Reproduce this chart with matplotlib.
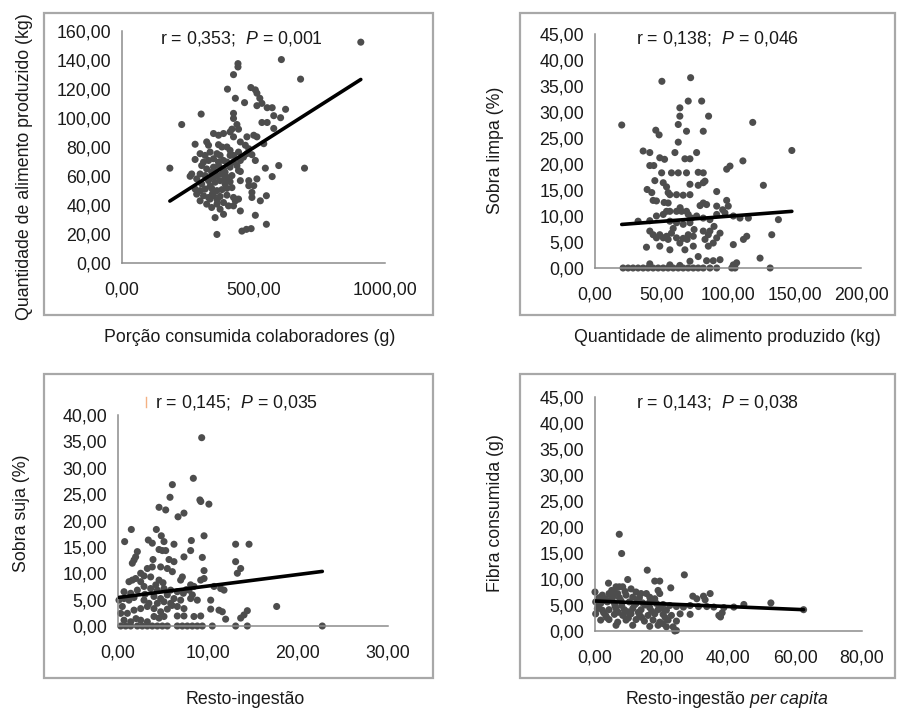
import matplotlib
matplotlib.use("Agg")
import matplotlib.pyplot as plt
import numpy as np
from matplotlib.patches import Rectangle
from matplotlib.lines import Line2D
from matplotlib.ticker import FixedLocator, FuncFormatter

plt.rcParams['font.family'] = ['Liberation Sans', 'DejaVu Sans']
plt.rcParams['mathtext.fontset'] = 'custom'
plt.rcParams['mathtext.rm'] = 'Liberation Sans'
plt.rcParams['mathtext.it'] = 'Liberation Sans:italic'

# ---------------- Panel 1: Porção consumida vs Quantidade produzida ----------------
p1_x = [908, 606, 441, 441, 424, 679, 401, 490, 507, 513, 431, 466, 524, 532, 513, 552, 571, 622,
        301, 424, 424, 227, 577, 603, 532, 552, 437, 443, 418, 577, 348, 367, 386, 411, 424, 475,
        501, 513, 278, 322, 329, 367, 380, 399, 450, 469, 482, 539, 297, 316, 335, 361, 373, 411,
        424, 443, 475, 494, 278, 310, 329, 348, 386, 399, 424, 450, 507, 182, 303, 322, 348, 367,
        386, 411, 437, 443, 265, 259, 297, 316, 341, 361, 380, 399, 418, 450, 545, 596, 694, 571,
        329, 354, 373, 392, 411, 450, 482, 513, 501, 482, 278, 297, 316, 341, 361, 380, 399, 284,
        310, 329, 348, 373, 399, 424, 443, 431, 494, 494, 526, 549, 297, 322, 341, 361, 386, 405,
        424, 450, 507, 549, 354, 386, 456, 473, 491, 361, 335, 373, 284, 303, 348, 367, 411, 462,
        335, 354, 392, 418, 362, 344, 390]
p1_y = [152.3, 140.3, 137.5, 135.2, 129.9, 126.8, 119.9, 121.0, 119.4, 117.1, 113.6, 110.6, 113.6,
        110.1, 108.5, 107.1, 107.1, 106.0, 102.7, 103.2, 99.7, 95.5, 101.6, 100.2, 96.9, 96.9, 95.5,
        92.3, 92.3, 92.8, 89.3, 88.1, 89.3, 90.4, 87.0, 87.0, 88.1, 87.0, 81.9, 83.5, 81.2, 81.6,
        80.0, 80.0, 83.5, 81.2, 78.8, 82.3, 75.4, 74.2, 76.5, 75.4, 74.2, 77.7, 74.2, 76.5, 75.4,
        74.7, 71.4, 69.6, 70.7, 71.9, 70.7, 69.6, 69.6, 70.7, 70.7, 65.4, 67.2, 64.9, 66.1, 67.2,
        64.9, 66.1, 67.2, 63.8, 61.4, 59.8, 61.4, 60.3, 62.6, 60.3, 61.4, 59.1, 60.3, 63.1, 65.4,
        67.2, 65.4, 59.6, 56.8, 55.7, 56.8, 54.5, 56.1, 56.8, 56.8, 58.0, 53.3, 53.3, 51.0, 49.9,
        51.0, 51.5, 49.9, 50.6, 51.5, 47.5, 46.4, 45.2, 46.4, 45.9, 46.8, 45.2, 44.1, 42.9, 48.7,
        45.2, 42.9, 46.4, 42.9, 40.6, 38.3, 40.6, 41.7, 39.4, 39.4, 35.9, 32.9, 26.7, 31.3, 33.6,
        22.0, 23.2, 23.7, 19.7, 44.1, 37.1, 58.0, 54.5, 59.1, 69.6, 74.2, 73.0,
        53.0, 63.0, 62.5, 52.0, 43.5, 47.8, 57.5]
p1_trend = (21.7, 0.1155)  # intercept, slope
p1_xticks = [0, 500, 1000]
p1_yticks = [0, 20, 40, 60, 80, 100, 120, 140, 160]
p1_xlabel = "Porção consumida colaboradores (g)"
p1_ylabel = "Quantidade de alimento produzido (kg)"
p1_stat = ("0,353", "0,001")

# ---------------- Panel 2: Quantidade produzida vs Sobra limpa ----------------
p2_x = [20.1, 50.3, 71.9, 70.1, 80.2, 63.8, 63.8, 85.4, 62.6, 68.8, 81.4, 118.6, 45.7, 48.2, 62.6,
        148.0, 36.2, 41.2, 60.1, 76.4, 48.7, 52.3, 41.2, 44.2, 67.6, 71.4, 111.2, 101.5, 99.0,
        50.1, 57.5, 62.6, 68.8, 77.6, 81.4, 51.3, 53.8, 71.4, 77.6, 81.4, 82.7, 126.6, 39.2, 42.7,
        43.7, 46.2, 55.0, 56.3, 61.3, 66.3, 71.4, 91.5, 81.4, 83.9, 91.5, 99.0, 100.2, 55.0, 53.8,
        56.3, 61.3, 65.1, 68.8, 46.2, 51.3, 41.2, 32.4,
        70.1, 72.6, 76.4, 81.4, 86.4, 91.5, 97.7, 104.0, 109.0, 115.3, 137.9, 56.3, 61.3, 66.3,
        71.4, 41.2, 43.7, 48.7, 53.8, 57.5, 46.2, 51.3, 55.0, 61.3, 66.3, 70.1, 73.9, 63.8, 69.3,
        38.7, 48.7, 56.3, 67.6, 73.9, 82.7, 85.2, 88.9, 91.5, 94.0, 104.0, 111.6, 114.1, 132.9,
        85.2, 86.4, 81.4, 77.6, 71.4, 83.9, 88.9, 94.0, 104.0, 106.5, 124.1, 41.2, 56.3, 63.8,
        21.1, 24.9, 28.6, 32.4, 36.2, 39.9, 43.7, 47.5, 51.3, 55.0, 58.8, 62.6, 66.3, 70.1, 73.9,
        77.6, 81.4, 86.4, 91.5, 102.8, 105.3, 131.7,
        58.8, 64.0, 74.5, 79.0, 89.5, 96.0, 45.0, 52.0]
p2_y = [27.5, 35.9, 36.6, 32.1, 32.1, 30.8, 29.2, 29.2, 27.6, 26.3, 26.3, 28.0, 26.5, 25.6, 24.2,
        22.6, 22.5, 22.2, 22.2, 22.2, 21.2, 20.9, 19.7, 19.7, 21.0, 21.0, 20.6, 19.6, 19.0,
        18.3, 18.3, 18.3, 18.3, 18.4, 18.3, 16.4, 15.6, 16.1, 15.9, 16.4, 16.7, 15.9, 15.1, 14.5,
        13.0, 12.9, 14.5, 14.1, 14.1, 14.0, 14.1, 14.7, 12.5, 12.2, 11.9, 13.0, 11.9, 12.5, 10.9,
        10.9, 10.9, 10.9, 10.9, 10.0, 10.3, 9.1, 9.0,
        10.3, 9.6, 10.0, 9.6, 9.3, 10.3, 10.6, 10.0, 9.6, 9.6, 9.3, 9.0, 8.7, 8.4,
        8.7, 7.1, 6.4, 6.4, 6.1, 6.7, 5.8, 5.8, 5.5, 5.8, 5.7, 6.4, 6.1, 4.8, 5.5,
        4.0, 4.2, 3.5, 3.5, 4.2, 5.5, 4.2, 4.8, 5.8, 6.7, 4.5, 5.5, 6.1, 6.4,
        6.4, 7.1, 7.1, 2.2, 1.3, 1.4, 1.4, 1.6, 0.6, 1.0, 1.9, 0.8, 0.6, 0.5,
        0, 0, 0, 0, 0, 0, 0, 0, 0, 0, 0, 0, 0, 0, 0,
        0, 0, 0, 0, 0, 0, 0,
        7.6, 11.6, 7.4, 12.0, 8.0, 11.2, 16.8, 12.6]
p2_trend = (7.98, 0.0197)
p2_xticks = [0, 50, 100, 150, 200]
p2_yticks = [0, 5, 10, 15, 20, 25, 30, 35, 40, 45]
p2_xlabel = "Quantidade de alimento produzido (kg)"
p2_ylabel = "Sobra limpa (%)"
p2_stat = ("0,138", "0,046")

# ---------------- Panel 3: Resto-ingestão vs Sobra suja ----------------
p3_x = [9.30, 8.37, 6.04, 5.78, 9.10, 9.20, 10.10, 4.56, 5.30, 7.33, 6.67, 1.48, 4.26, 4.81, 5.11,
        9.56, 0.74, 3.37, 3.81, 6.22, 8.15, 8.07, 13.07, 14.56, 4.56, 4.93, 5.30, 2.15, 1.96, 1.78,
        1.59, 3.89, 5.67, 6.22, 7.33, 9.37, 13.07, 13.63, 13.26, 3.26, 3.81, 4.74, 5.48, 6.04,
        2.52, 2.89, 3.63, 4.56, 1.22, 1.59, 1.96, 2.52, 9.56, 7.15, 6.96, 9.19, 9.56,
        8.07, 8.44, 7.89, 10.67, 11.41, 11.78, 0.67, 1.41, 2.15, 2.89, 3.63, 4.37, 5.11, 5.85,
        6.59, 7.26, 8.26, 4.00, 4.74, 5.48, 6.22, 0.67, 1.22, 1.78, 2.89, 3.44, 4.37, 5.11, 5.85,
        6.96, 8.07, 8.81, 10.30, 10.30, 11.22, 11.59, 0.30, 1.04, 1.78, 2.52, 3.26, 4.00, 4.74,
        5.48, 6.59, 7.33, 4.00, 4.56, 5.11, 6.59, 7.33, 8.44, 9.19, 14.37, 14.00, 13.63, 11.96,
        17.63, 0.67, 1.41, 2.52, 3.26, 0.11, 0.48,
        0.30, 0.85, 1.41, 2.15, 2.70, 3.26, 3.81, 4.37, 4.93, 5.48, 6.59, 7.15, 7.70, 8.26, 8.81,
        9.37, 10.48, 13.07, 14.37, 22.70,
        2.0, 3.0, 4.2, 5.0, 6.0, 7.6]
p3_y = [35.7, 28.0, 26.8, 24.4, 23.9, 23.6, 23.1, 22.5, 22.0, 21.4, 20.7, 18.3, 18.3, 17.1, 16.0,
        17.1, 16.0, 16.3, 15.7, 15.5, 16.2, 14.3, 15.5, 15.5, 14.5, 14.3, 14.3, 14.1, 13.1, 12.5,
        11.9, 12.6, 12.6, 12.2, 13.1, 13.0, 12.2, 10.9, 10.0, 10.9, 11.2, 11.2, 10.9, 10.3,
        10.0, 9.5, 9.3, 8.7, 8.4, 8.7, 9.0, 8.4, 10.5, 9.3, 8.7, 8.7, 9.0,
        7.8, 7.5, 6.8, 7.5, 7.1, 6.8, 6.5, 6.2, 6.8, 7.5, 7.1, 6.8, 7.1, 6.8,
        6.5, 6.2, 5.9, 5.6, 5.2, 5.9, 5.2, 5.2, 4.9, 5.4, 4.9, 4.3, 4.3, 4.6, 4.3,
        4.9, 5.2, 4.9, 4.9, 3.2, 3.0, 2.7, 2.4, 2.4, 3.0, 3.3, 3.7, 3.3, 2.7,
        3.2, 3.7, 3.3, 1.8, 1.5, 1.8, 1.9, 1.9, 1.8, 1.9, 2.9, 2.1, 1.5, 1.3,
        3.7, 1.1, 0.8, 1.1, 0.8, 4.9, 3.7,
        0, 0, 0, 0, 0, 0, 0, 0, 0, 0, 0, 0, 0, 0, 0,
        0, 0, 0, 0, 0,
        1.4, 6.0, 7.8, 8.2, 3.9, 6.9]
p3_trend = (5.4, 0.218)
p3_xticks = [0, 10, 20, 30]
p3_yticks = [0, 5, 10, 15, 20, 25, 30, 35, 40]
p3_xlabel = "Resto-ingestão"
p3_ylabel = "Sobra suja (%)"
p3_stat = ("0,145", "0,035")

# ---------------- Panel 4: Resto-ingestão per capita vs Fibra consumida ----------------
p4_x = [7.27, 7.98, 15.66, 26.77, 9.80, 17.9, 19.4, 4.04, 22.7, 0.0, 6.3, 7.3, 8.3, 62.5,
        10.8, 12.3, 13.8, 15.4, 18.9, 19.4, 29.3, 30.5, 32.5, 34.5, 33.0, 44.6, 52.7,
        2.2, 4.2, 5.8, 6.8, 3.2, 5.3, 7.3, 9.3, 11.3, 13.3, 16.4, 17.9,
        0.2, 1.7, 3.7, 5.8, 7.8, 10.3, 12.3, 14.3, 16.4, 18.4, 20.4,
        22.4, 24.4, 26.5, 28.5, 31.0, 33.5, 35.6, 38.6, 41.6,
        0.7, 2.2, 4.2, 6.3, 8.8, 11.3, 13.8, 16.4, 18.9, 21.4,
        0.2, 3.2, 5.8, 8.3, 10.8, 13.3, 15.9, 17.9, 20.4, 22.9, 25.5, 28.5, 37.1, 38.1, 37.6,
        1.7, 4.2, 6.8, 9.3, 12.3, 14.8, 17.4, 19.4, 21.9, 24.4,
        18.9, 21.4, 23.4, 24.4, 23.9, 20.4, 6.3, 11.3, 16.4,
        1.2, 2.8, 4.8, 6.0, 8.0, 9.8, 11.8, 13.0, 15.0, 17.0, 19.8, 21.0, 3.5, 7.0, 10.0, 14.0,
        1.0, 2.6, 5.0, 9.0, 12.8]
p4_y = [18.6, 14.9, 11.7, 10.8, 9.9, 9.6, 9.6, 9.2, 8.3, 7.5, 8.5, 8.5, 8.5, 4.1,
        8.1, 7.5, 7.2, 7.2, 7.8, 7.2, 6.7, 6.2, 6.7, 7.2, 6.0, 5.1, 5.4,
        6.9, 7.2, 7.5, 7.2, 6.2, 6.5, 6.4, 6.9, 6.5, 6.4, 6.5, 6.2,
        5.6, 5.3, 5.6, 5.4, 5.8, 5.6, 5.3, 5.4, 5.6, 5.3, 5.1,
        4.9, 4.7, 4.6, 4.9, 4.7, 4.7, 4.6, 4.5, 4.6,
        4.3, 4.0, 4.1, 4.3, 4.1, 4.3, 4.1, 4.5, 4.1, 4.0,
        3.3, 3.0, 3.2, 3.0, 3.3, 3.2, 3.0, 3.3, 3.2, 3.0, 3.3, 3.2, 3.0, 3.5, 2.7,
        2.1, 2.2, 1.7, 2.1, 2.2, 1.9, 2.1, 1.7, 2.1, 1.9,
        1.1, 0.8, 0.8, 0.1, 0.0, 1.4, 1.1, 1.1, 0.9,
        6.4, 5.9, 6.0, 4.8, 4.9, 3.7, 5.0, 3.6, 5.0, 3.8, 4.4, 2.6, 2.6, 3.6, 2.5, 2.6,
        4.8, 3.5, 7.8, 7.6, 5.9]
p4_trend = (5.77, -0.0267)
p4_xticks = [0, 20, 40, 60, 80]
p4_yticks = [0, 5, 10, 15, 20, 25, 30, 35, 40, 45]
p4_xlabel = "Resto-ingestão $\\it{per\\ capita}$"
p4_ylabel = "Fibra consumida (g)"
p4_stat = ("0,143", "0,038")

# ---------------- Layout (pixel based) ----------------
W, H = 897, 711
fig = plt.figure(figsize=(W / 100, H / 100), dpi=100)
fig.patch.set_facecolor('white')

FS = 12.8
TXT = '#1a1a1a'
AXC = '#8c8c8c'
DOT = '#4d4d4d'


def px_axes(x0, x1, y0, y1):
    # x0,x1: left/right pixel of data range; y0: pixel of ymin; y1: pixel of ymax
    return fig.add_axes([x0 / W, 1 - y0 / H, (x1 - x0) / W, (y0 - y1) / H])


def fmt(v, pos=None):
    return f"{v:.2f}".replace('.', ',')


panels = [
    dict(x=p1_x, y=p1_y, trend=p1_trend, xt=p1_xticks, yt=p1_yticks, xl=p1_xlabel, yl=p1_ylabel,
         stat=p1_stat, ax=(122, 385, 263, 31), frame=(44, 13, 433, 315),
         ylpos=(25, 167), xlpos=(250, 337), statpos=(241, 39)),
    dict(x=p2_x, y=p2_y, trend=p2_trend, xt=p2_xticks, yt=p2_yticks, xl=p2_xlabel, yl=p2_ylabel,
         stat=p2_stat, ax=(595, 861, 268, 34), frame=(520, 13, 895, 315),
         ylpos=(495, 150), xlpos=(727, 337), statpos=(718, 39)),
    dict(x=p3_x, y=p3_y, trend=p3_trend, xt=p3_xticks, yt=p3_yticks, xl=p3_xlabel, yl=p3_ylabel,
         stat=p3_stat, ax=(118, 388, 626, 415), frame=(44, 374, 433, 678),
         ylpos=(22, 513), xlpos=(245, 700), statpos=(237, 402)),
    dict(x=p4_x, y=p4_y, trend=p4_trend, xt=p4_xticks, yt=p4_yticks, xl=p4_xlabel, yl=p4_ylabel,
         stat=p4_stat, ax=(595, 862, 631, 397), frame=(520, 374, 895, 678),
         ylpos=(495, 513), xlpos=(727, 700), statpos=(718, 402)),
]

for p in panels:
    fx0, fy0, fx1, fy1 = p['frame']
    fig.add_artist(Rectangle((fx0 / W, 1 - fy1 / H), (fx1 - fx0) / W, (fy1 - fy0) / H,
                             transform=fig.transFigure, fill=False, edgecolor='#a8a8a8',
                             linewidth=1.6))
    ax = px_axes(*p['ax'])
    ax.set_facecolor('none')
    xs = np.array(p['x'], dtype=float)
    ys = np.array(p['y'], dtype=float)
    ax.scatter(xs, ys, s=26, color=DOT, edgecolors='none', clip_on=False, zorder=2)
    b0, b1 = p['trend']
    lx = np.array([xs.min(), xs.max()])
    ax.plot(lx, b0 + b1 * lx, color='black', linewidth=2.6, solid_capstyle='round', zorder=3)
    ax.set_xlim(p['xt'][0], p['xt'][-1])
    ax.set_ylim(p['yt'][0], p['yt'][-1])
    ax.xaxis.set_major_locator(FixedLocator(p['xt']))
    ax.yaxis.set_major_locator(FixedLocator(p['yt']))
    ax.xaxis.set_major_formatter(FuncFormatter(fmt))
    ax.yaxis.set_major_formatter(FuncFormatter(fmt))
    ax.tick_params(axis='both', length=0, labelsize=FS, labelcolor=TXT)
    ax.tick_params(axis='x', pad=13)
    ax.tick_params(axis='y', pad=8)
    for s in ('top', 'right'):
        ax.spines[s].set_visible(False)
    for s in ('left', 'bottom'):
        ax.spines[s].set_color(AXC)
        ax.spines[s].set_linewidth(1.1)
    fig.text(p['ylpos'][0] / W, 1 - p['ylpos'][1] / H, p['yl'], rotation=90, ha='center',
             va='center', fontsize=FS, color=TXT)
    fig.text(p['xlpos'][0] / W, 1 - p['xlpos'][1] / H, p['xl'], ha='center', va='center',
             fontsize=FS, color=TXT)
    r, pv = p['stat']
    fig.text(p['statpos'][0] / W, 1 - p['statpos'][1] / H,
             f"r = {r};  $\\it{{P}}$ = {pv}", ha='center', va='center', fontsize=FS, color=TXT)

# small orange mark next to the third panel's annotation
fig.add_artist(Line2D([146 / W, 146 / W], [1 - 397 / H, 1 - 407 / H], transform=fig.transFigure,
                      color='#f4b183', linewidth=1.0))

fig.savefig('out.png', dpi=100, facecolor='white')
